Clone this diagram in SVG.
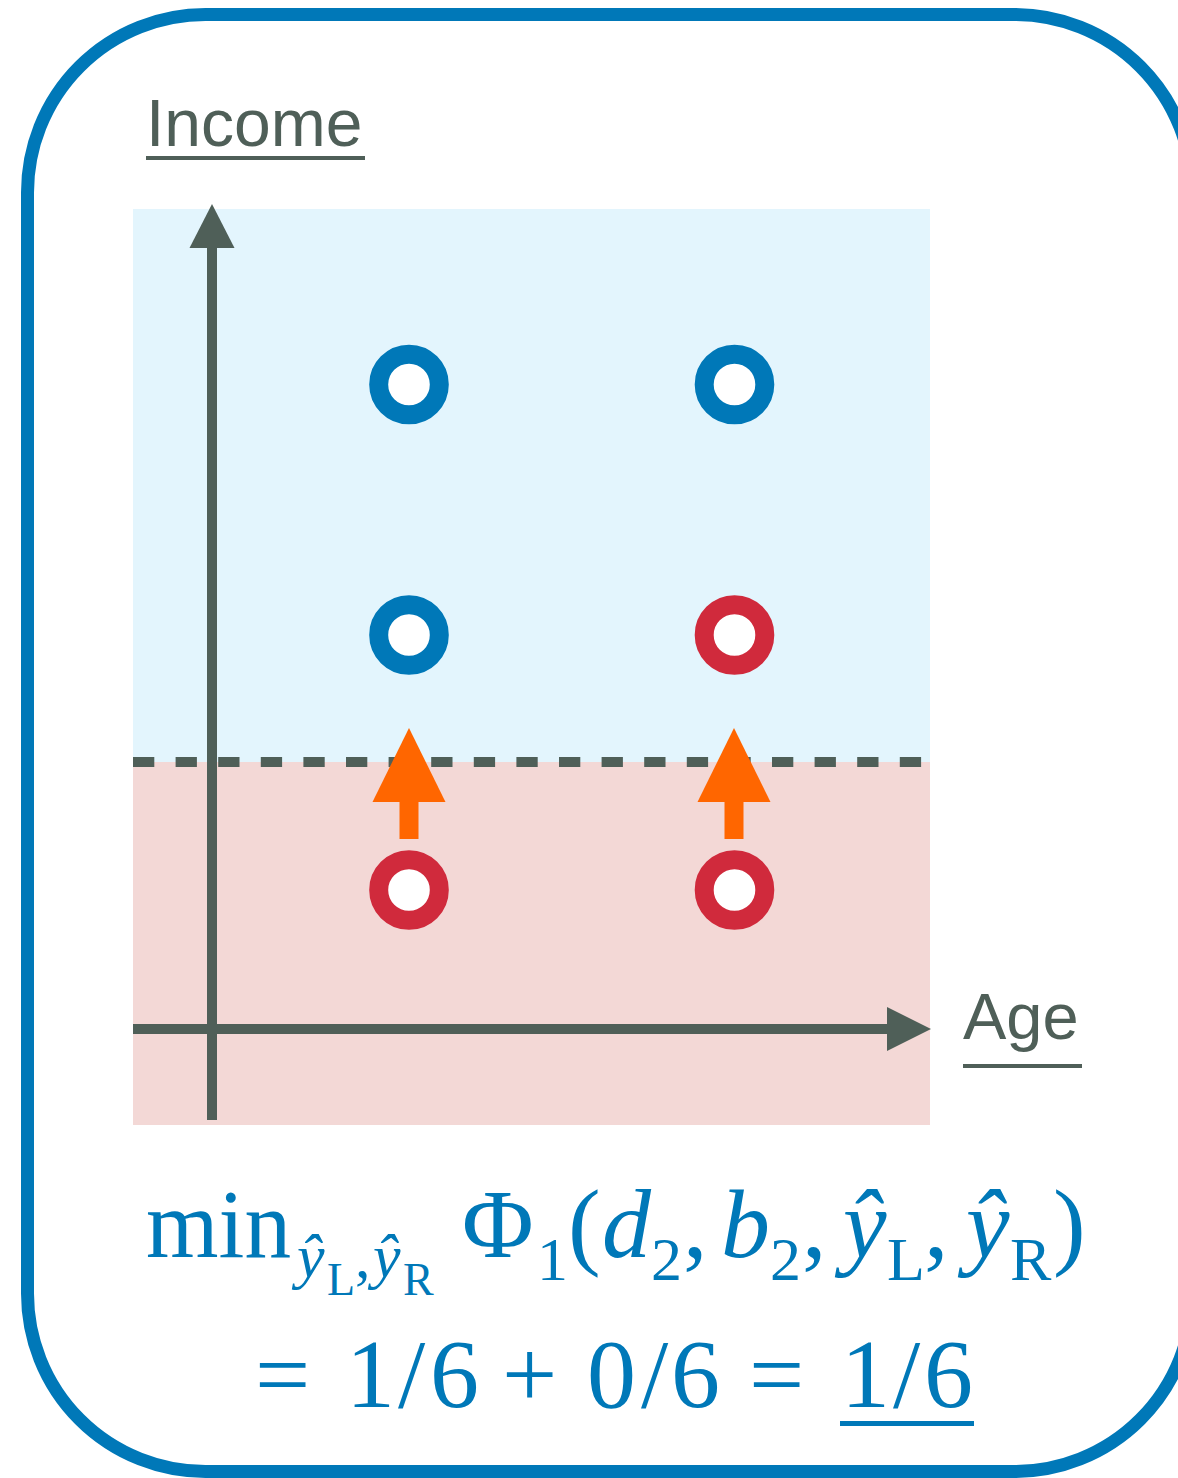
<svg xmlns="http://www.w3.org/2000/svg" width="1178" height="1478" viewBox="0 0 1178 1478">
  <style>
    .axis { stroke: #4F5F58; stroke-width: 10; fill: none; }
    .axhead { fill: #4F5F58; }
    .lbl { font-family: "Liberation Sans", Arial, Helvetica, sans-serif; font-size: 66px; fill: #4F5F58; }
    .ul { fill: #4F5F58; }
    .pb { fill: #FFFFFF; stroke: #0078B8; stroke-width: 19; }
    .pr { fill: #FFFFFF; stroke: #D02A3C; stroke-width: 19; }
    .up { fill: #FF6600; }
    .f { font-family: "Liberation Serif", "Times New Roman", serif; fill: #0078B8; }
    .m { font-size: 98px; }
    .s { font-size: 62px; }
    .ss { font-size: 46px; }
    .it { font-style: italic; }
  </style>
  <rect x="0" y="0" width="1178" height="1478" fill="#FFFFFF"/>
  <g id="frame">
    <rect x="27.5" y="14.5" width="1165" height="1457" rx="178" ry="178" fill="none" stroke="#0078B8" stroke-width="13"/>
  </g>
  <g id="regions">
    <rect x="133" y="209" width="797" height="553" fill="#E3F5FD"/>
    <rect x="133" y="762" width="797" height="363" fill="#F3D8D6"/>
  </g>
  <g id="threshold">
    <line x1="133" y1="762" x2="930" y2="762" stroke="#4F5F58" stroke-width="10" stroke-dasharray="21.3 21.3"/>
  </g>
  <g id="connectors">
    <line class="axis" x1="212" y1="240" x2="212" y2="1120"/>
    <polygon class="axhead" points="212,204 189.5,248 234.5,248"/>
    <line class="axis" x1="133" y1="1029" x2="892" y2="1029"/>
    <polygon class="axhead" points="931,1029 887,1007 887,1051"/>
    <g id="arrow-left">
      <rect class="up" x="399.5" y="798" width="19" height="41"/>
      <polygon class="up" points="409,728 372.5,802 445.5,802"/>
    </g>
    <g id="arrow-right">
      <rect class="up" x="724.5" y="798" width="19" height="41"/>
      <polygon class="up" points="734,728 697.5,802 770.5,802"/>
    </g>
  </g>
  <g id="point-1"><circle class="pb" cx="409" cy="384.5" r="30.3"/></g>
  <g id="point-2"><circle class="pb" cx="734.5" cy="384.5" r="30.3"/></g>
  <g id="point-3"><circle class="pb" cx="409" cy="635" r="30.3"/></g>
  <g id="point-4"><circle class="pr" cx="734.5" cy="635" r="30.3"/></g>
  <g id="point-5"><circle class="pr" cx="409" cy="890" r="30.3"/></g>
  <g id="point-6"><circle class="pr" cx="734.5" cy="890" r="30.3"/></g>
  <g id="label-income">
    <text class="lbl" x="146" y="146">Income</text>
    <rect class="ul" x="146" y="156" width="219" height="4"/>
  </g>
  <g id="label-age">
    <text class="lbl" x="963" y="1039" style="font-size:65px">Age</text>
    <rect class="ul" x="963" y="1064" width="119" height="4"/>
  </g>
  <g id="formula">
    <text class="f m" x="146" y="1257" textLength="145" lengthAdjust="spacingAndGlyphs">min</text>
    <text class="f s it" x="297" y="1277">ŷ</text>
    <text class="f ss" x="327" y="1295">L</text>
    <text class="f s" x="355" y="1277">,</text>
    <text class="f s it" x="373" y="1277">ŷ</text>
    <text class="f ss" x="403" y="1295">R</text>
    <text class="f m" x="462" y="1257">Φ</text>
    <text class="f s" x="537" y="1280">1</text>
    <text class="f m" x="568" y="1257">(</text>
    <text class="f m it" x="602" y="1257">d</text>
    <text class="f s" x="651" y="1280">2</text>
    <text class="f m" x="683" y="1257">,</text>
    <text class="f m it" x="721" y="1257">b</text>
    <text class="f s" x="770" y="1280">2</text>
    <text class="f m" x="802" y="1257">,</text>
    <text class="f m it" x="843" y="1257">ŷ</text>
    <text class="f s" x="887" y="1280">L</text>
    <text class="f m" x="924" y="1257">,</text>
    <text class="f m it" x="966" y="1257">ŷ</text>
    <text class="f s" x="1010" y="1280">R</text>
    <text class="f m" x="1053" y="1257">)</text>
    <text class="f m" x="255" y="1407">=</text>
    <text class="f m" x="346 398 430" y="1407">1/6</text>
    <text class="f m" x="502" y="1407">+</text>
    <text class="f m" x="587 641 671" y="1407">0/6</text>
    <text class="f m" x="749" y="1407">=</text>
    <text class="f m" x="841 893 924" y="1407">1/6</text>
    <rect x="840" y="1421" width="134" height="5" fill="#0078B8"/>
  </g>
</svg>
